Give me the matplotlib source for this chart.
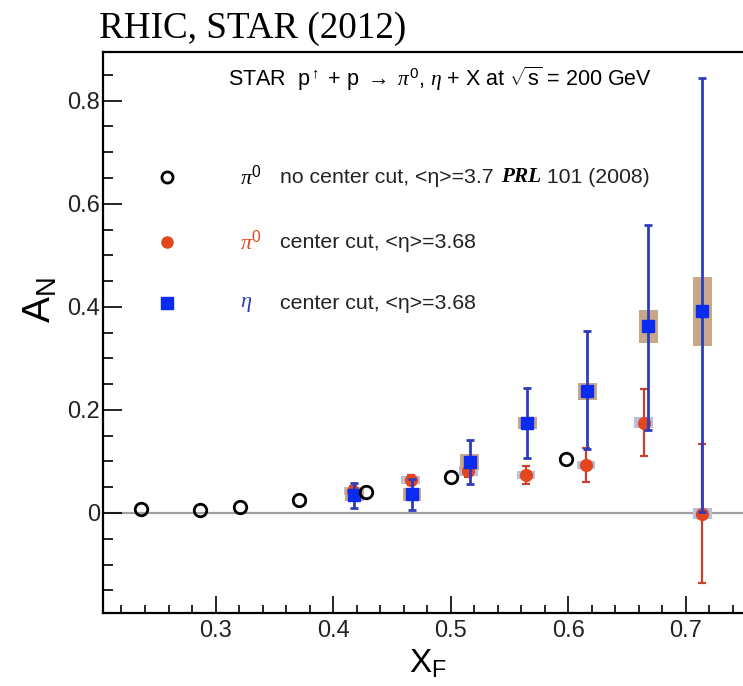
import matplotlib
matplotlib.use('Agg')
import matplotlib.pyplot as plt
from matplotlib.patches import Rectangle

plt.rcParams['font.family'] = ['Liberation Sans', 'DejaVu Sans']
plt.rcParams['mathtext.fontset'] = 'custom'
plt.rcParams['mathtext.rm'] = 'Liberation Sans'
plt.rcParams['mathtext.sf'] = 'Liberation Sans'
plt.rcParams['mathtext.it'] = 'Liberation Serif:italic'
plt.rcParams['mathtext.bf'] = 'Liberation Sans:bold'

# ----------------------------
# Data
# ----------------------------
# pi0, no center cut, PRL 101 (2008)
open_x = [0.237, 0.287, 0.321, 0.371, 0.428, 0.500, 0.598]
open_y = [0.008, 0.005, 0.012, 0.025, 0.041, 0.070, 0.104]

# pi0, center cut
pi_x    = [0.417, 0.466, 0.515, 0.564, 0.615, 0.664, 0.714]
pi_y    = [0.042, 0.064, 0.082, 0.074, 0.093, 0.175, -0.001]
pi_stat = [0.010, 0.010, 0.012, 0.018, 0.033, 0.065, 0.135]
pi_sys  = [0.008, 0.008, 0.010, 0.008, 0.008, 0.011, 0.010]

# eta, center cut
eta_x    = [0.418, 0.467, 0.516, 0.565, 0.616, 0.668, 0.714]
eta_y    = [0.035, 0.036, 0.099, 0.175, 0.236, 0.362, 0.391]
eta_lo   = [0.025, 0.030, 0.042, 0.068, 0.112, 0.200, 0.390]
eta_hi   = [0.023, 0.030, 0.042, 0.068, 0.118, 0.196, 0.454]
eta_sys  = [0.012, 0.012, 0.015, 0.012, 0.016, 0.032, 0.066]

COL_RED      = '#e4461e'
COL_RED_BAR  = '#c8402e'
COL_BLUE     = '#0a2cf0'
COL_BLUE_BAR = '#2e3cbc'
COL_BOX_ETA  = '#c9a88a'
COL_BOX_PI   = '#b9bfdc'
BOX_W = 0.016

fig = plt.figure(figsize=(7.43, 6.86), dpi=100)
ax = fig.add_axes([0.1382, 0.1069, 0.8618, 0.8173])
ax.set_xlim(0.204, 0.7485)
ax.set_ylim(-0.1934, 0.8945)

ax.axhline(0, color='#a0a0a0', lw=1.6, zorder=1)

# systematic boxes
for x, y, s in zip(pi_x, pi_y, pi_sys):
    ax.add_patch(Rectangle((x - BOX_W / 2, y - s), BOX_W, 2 * s,
                           facecolor=COL_BOX_PI, edgecolor='none', zorder=2))
for x, y, s in zip(eta_x, eta_y, eta_sys):
    ax.add_patch(Rectangle((x - BOX_W / 2, y - s), BOX_W, 2 * s,
                           facecolor=COL_BOX_ETA, edgecolor='none', zorder=2))

ax.errorbar(pi_x, pi_y, yerr=pi_stat, fmt='o', color=COL_RED_BAR,
            mfc=COL_RED, mec=COL_RED, ms=8.5, elinewidth=1.6, capsize=3,
            capthick=1.6, zorder=3)
ax.errorbar(eta_x, eta_y, yerr=[eta_lo, eta_hi], fmt='s', color=COL_BLUE_BAR,
            mfc=COL_BLUE, mec=COL_BLUE, ms=8.5, elinewidth=2.0, capsize=3,
            capthick=2.0, zorder=4)
ax.plot(open_x, open_y, 'o', mfc='none', mec='black', ms=9, mew=2, zorder=5)

# axes styling
for side in ['left', 'bottom', 'top']:
    ax.spines[side].set_linewidth(1.6)
ax.spines['right'].set_visible(False)
ax.set_xticks([0.3, 0.4, 0.5, 0.6, 0.7])
ax.set_xticks([0.22 + 0.02 * i for i in range(27)], minor=True)
ax.set_yticks([0, 0.2, 0.4, 0.6, 0.8])
ax.set_yticks([-0.15, -0.1, -0.05, 0.05, 0.1, 0.15, 0.25, 0.3, 0.35,
               0.45, 0.5, 0.55, 0.65, 0.7, 0.75, 0.85], minor=True)
ax.set_xticklabels(['0.3', '0.4', '0.5', '0.6', '0.7'])
ax.set_yticklabels(['0', '0.2', '0.4', '0.6', '0.8'])
ax.tick_params(axis='x', which='major', direction='in', length=12, width=1.2,
               labelsize=17, pad=5, colors='black', labelcolor='#222222')
ax.tick_params(axis='x', which='minor', direction='in', length=6, width=1.2)
ax.tick_params(axis='y', which='major', direction='in', length=14, width=1.2,
               labelsize=17, pad=2, labelcolor='#222222')
ax.tick_params(axis='y', which='minor', direction='in', length=7, width=1.2)

fig.text(40 / 743, 1 - 300 / 686, r'$\mathrm{A_N}$', rotation=90,
         ha='center', va='center', fontsize=28)
fig.text(428 / 743, 1 - 664 / 686, r'$\mathrm{X_F}$',
         ha='center', va='center', fontsize=24)

fig.text(99 / 743, 1 - 38 / 686, 'RHIC, STAR (2012)', family='Liberation Serif',
         fontsize=26.7, ha='left', va='baseline')

ax.text(0.527, 0.978,
        r'STAR  p$^{\uparrow}$ + p $\rightarrow$ $\pi^0$, $\eta$ + X at $\sqrt{\mathrm{s}}$ = 200 GeV',
        transform=ax.transAxes, ha='center', va='top', fontsize=15.5)

# legend, drawn by hand
ax.plot([0.1004], [0.777], 'o', mfc='none', mec='black', ms=8, mew=2,
        transform=ax.transAxes, clip_on=False)
ax.plot([0.1004], [0.661], 'o', color=COL_RED, ms=8, transform=ax.transAxes)
ax.plot([0.1004], [0.552], 's', color=COL_BLUE, ms=8, transform=ax.transAxes)

ax.text(0.214, 0.777, r'$\pi^0$', transform=ax.transAxes, va='center',
        fontsize=16, color='black')
ax.text(0.214, 0.661, r'$\pi^0$', transform=ax.transAxes, va='center',
        fontsize=16, color=COL_RED)
ax.text(0.214, 0.552, r'$\eta$', transform=ax.transAxes, va='center',
        fontsize=16, color=COL_BLUE_BAR)

t1 = ax.text(0.277, 0.777, 'no center cut, <η>=3.7', transform=ax.transAxes,
             va='center', fontsize=15.3, color='#222222')
t2 = ax.annotate('PRL', xy=(1, 0), xycoords=t1, xytext=(5, 0),
                 textcoords='offset points', va='bottom', fontsize=15.3,
                 family='Liberation Serif', style='italic', weight='bold')
ax.annotate(' 101 (2008)', xy=(1, 0), xycoords=t2, va='bottom', fontsize=15.3,
            color='#222222')
ax.text(0.277, 0.661, 'center cut, <η>=3.68', transform=ax.transAxes,
        va='center', fontsize=15.3, color='#222222')
ax.text(0.277, 0.552, 'center cut, <η>=3.68', transform=ax.transAxes,
        va='center', fontsize=15.3, color='#222222')

plt.savefig('out.png', dpi=100)
